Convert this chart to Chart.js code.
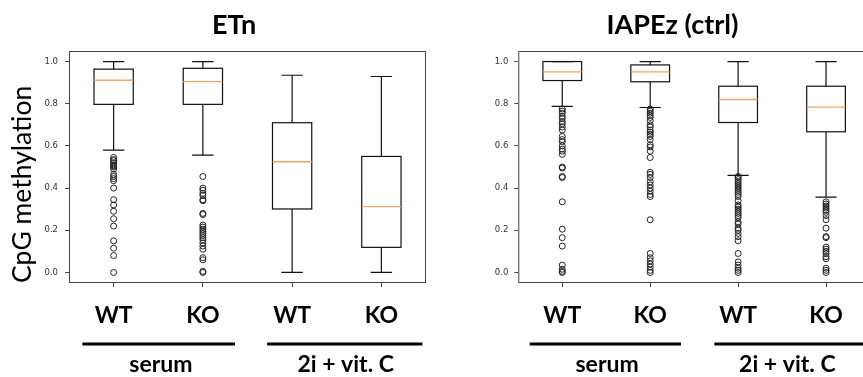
<!DOCTYPE html>
<html>
<head>
<meta charset="utf-8">
<script src="https://cdn.jsdelivr.net/npm/chart.js@4.4.1/dist/chart.umd.min.js"></script>
<style>
  html, body { margin: 0; padding: 0; background: #fff; overflow: hidden; }
  body { width: 863px; height: 377px; position: relative; }
  canvas { position: absolute; top: 0; }
  #etnChart { left: 0; }
  #iapChart { left: 470px; }
</style>
</head>
<body>
<canvas id="etnChart" width="468" height="377"></canvas>
<canvas id="iapChart" width="405" height="377"></canvas>
<script>
const categories = ['WT', 'KO', 'WT', 'KO'];
const groups = ['serum', '2i + vit. C'];
const yTicks = [0, 0.2, 0.4, 0.6, 0.8, 1.0];

// ETn box stats (WT serum, KO serum, WT 2i, KO 2i)
const etnLow = [0.580, 0.556, 0.0, 0.0];
const etnQ1 = [0.797, 0.797, 0.301, 0.119];
const etnMed = [0.911, 0.905, 0.525, 0.312];
const etnQ3 = [0.964, 0.968, 0.710, 0.550];
const etnHigh = [1.0, 1.0, 0.935, 0.929];
const etnWtSerumOut = [0.545, 0.535, 0.53, 0.52, 0.51, 0.505, 0.50, 0.49, 0.465, 0.455, 0.445, 0.435, 0.40, 0.345, 0.32, 0.29, 0.255, 0.22, 0.15, 0.115, 0.08, 0.0];
const etnKoSerumOut = [0.455, 0.40, 0.39, 0.375, 0.365, 0.345, 0.34, 0.28, 0.275, 0.225, 0.215, 0.205, 0.195, 0.185, 0.175, 0.165, 0.155, 0.14, 0.125, 0.11, 0.07, 0.06, 0.005, 0.0];
const etnWt2iOut = [];
const etnKo2iOut = [];

// IAPEz (ctrl) box stats
const iapLow = [0.787, 0.782, 0.460, 0.357];
const iapQ1 = [0.910, 0.904, 0.711, 0.667];
const iapMed = [0.951, 0.951, 0.820, 0.784];
const iapQ3 = [1.0, 0.984, 0.883, 0.883];
const iapHigh = [1.0, 1.0, 1.0, 1.0];
const iapWtSerumOut = [0.775, 0.765, 0.755, 0.74, 0.73, 0.715, 0.705, 0.69, 0.675, 0.645, 0.63, 0.62, 0.60, 0.585, 0.575, 0.56, 0.50, 0.495, 0.455, 0.45, 0.335, 0.205, 0.165, 0.125, 0.035, 0.015, 0.005, 0.0];
const iapKoSerumOut = [0.775, 0.765, 0.755, 0.745, 0.735, 0.72, 0.70, 0.69, 0.675, 0.665, 0.655, 0.645, 0.63, 0.605, 0.595, 0.575, 0.545, 0.475, 0.465, 0.45, 0.43, 0.415, 0.40, 0.385, 0.37, 0.36, 0.25, 0.09, 0.07, 0.055, 0.04, 0.025, 0.01, 0.0];
const iapWt2iOut = [0.455, 0.45, 0.44, 0.43, 0.42, 0.41, 0.40, 0.39, 0.38, 0.37, 0.36, 0.34, 0.32, 0.31, 0.30, 0.29, 0.28, 0.27, 0.26, 0.24, 0.23, 0.21, 0.20, 0.185, 0.17, 0.15, 0.09, 0.05, 0.035, 0.02, 0.01, 0.0];
const iapKo2iOut = [0.335, 0.325, 0.315, 0.305, 0.295, 0.285, 0.27, 0.25, 0.21, 0.17, 0.165, 0.12, 0.11, 0.10, 0.09, 0.075, 0.065, 0.02, 0.01, 0.0];

const BOX_W = 0.44;   // in x units
const CAP_W = 0.24;
const frameColor = '#444';
const medianColor = '#f7a25e';
const boldFont = 'Lato';

// draws boxes, whiskers, medians and the frame using the chart scales
function boxPlugin(stats) {
  return {
    id: 'boxes',
    beforeDatasetsDraw(chart) {
      const { ctx, chartArea: a, scales: { x, y } } = chart;
      ctx.save();
      ctx.strokeStyle = frameColor;
      ctx.lineWidth = 1;
      ctx.strokeRect(a.left + 0.5, a.top + 0.5, a.right - a.left - 1, a.bottom - a.top - 1);

      stats.med.forEach((m, i) => {
        const c = i + 1;
        const bl = x.getPixelForValue(c - BOX_W / 2), br = x.getPixelForValue(c + BOX_W / 2);
        const cl = x.getPixelForValue(c - CAP_W / 2), cr = x.getPixelForValue(c + CAP_W / 2);
        const cx = x.getPixelForValue(c);
        const yLow = y.getPixelForValue(stats.low[i]), yHigh = y.getPixelForValue(stats.high[i]);
        const yQ1 = y.getPixelForValue(stats.q1[i]), yQ3 = y.getPixelForValue(stats.q3[i]);
        const yMed = y.getPixelForValue(m);

        ctx.strokeStyle = '#111';
        ctx.lineWidth = 1.2;
        ctx.beginPath();
        ctx.moveTo(cx, yQ1); ctx.lineTo(cx, yLow);
        ctx.moveTo(cx, yQ3); ctx.lineTo(cx, yHigh);
        ctx.moveTo(cl, yLow); ctx.lineTo(cr, yLow);
        ctx.moveTo(cl, yHigh); ctx.lineTo(cr, yHigh);
        ctx.stroke();
        ctx.strokeRect(bl, yQ3, br - bl, yQ1 - yQ3);

        ctx.strokeStyle = medianColor;
        ctx.lineWidth = 1.4;
        ctx.beginPath();
        ctx.moveTo(bl, yMed); ctx.lineTo(br, yMed);
        ctx.stroke();
      });
      ctx.restore();
    }
  };
}

// group brackets under the category labels
function groupPlugin(spans, centers) {
  return {
    id: 'groups',
    afterDraw(chart) {
      const { ctx, scales: { x } } = chart;
      ctx.save();
      ctx.strokeStyle = '#000';
      ctx.lineWidth = 3;
      ctx.fillStyle = '#000';
      ctx.font = `bold 23px ${boldFont}`;
      ctx.textAlign = 'center';
      ctx.textBaseline = 'alphabetic';
      groups.forEach((g, i) => {
        ctx.beginPath();
        ctx.moveTo(x.getPixelForValue(spans[i][0]), 344);
        ctx.lineTo(x.getPixelForValue(spans[i][1]), 344);
        ctx.stroke();
        ctx.fillText(g, x.getPixelForValue(centers[i]), 372);
      });
      ctx.restore();
    }
  };
}

function makeChart(id, opts) {
  const points = [];
  opts.outliers.forEach((arr, i) => arr.forEach(v => points.push({ x: i + 1, y: v })));

  return new Chart(document.getElementById(id), {
    type: 'scatter',
    data: {
      datasets: [{
        data: points,
        pointRadius: 3,
        pointBorderWidth: 1,
        pointBorderColor: '#222',
        pointBackgroundColor: 'rgba(0,0,0,0)'
      }]
    },
    options: {
      responsive: false,
      animation: false,
      plugins: {
        legend: { display: false },
        tooltip: { enabled: false },
        title: {
          display: true,
          text: opts.title,
          color: '#000',
          font: { family: boldFont, size: 27, weight: 'bold' },
          padding: { top: 9, bottom: 9.6 }
        }
      },
      scales: {
        x: {
          type: 'linear',
          min: 0.5,
          max: 4.5,
          afterBuildTicks: axis => { axis.ticks = categories.map((c, i) => ({ value: i + 1 })); },
          afterFit: axis => { axis.height = 94; },
          grid: { drawOnChartArea: false, tickLength: 4, color: frameColor },
          border: { display: false },
          ticks: {
            callback: (v, i) => categories[i],
            color: '#000',
            padding: 15,
            maxRotation: 0,
            autoSkip: false,
            font: { family: boldFont, size: 23, weight: 'bold' }
          }
        },
        y: {
          min: -0.05,
          max: 1.05,
          afterBuildTicks: axis => { axis.ticks = yTicks.map(v => ({ value: v })); },
          afterFit: axis => { axis.width = opts.axisWidth; },
          grid: { drawOnChartArea: false, tickLength: 4, color: frameColor },
          border: { display: false },
          ticks: {
            callback: v => v.toFixed(1),
            color: '#333',
            padding: opts.tickPad,
            font: { family: 'DejaVu Sans', size: 8.5 }
          },
          title: {
            display: opts.yTitle !== '',
            text: opts.yTitle,
            align: 'start',
            color: '#000',
            padding: { top: 7 },
            font: { family: 'Lato', size: 26.5 }
          }
        },
        // empty strip on the right so the title centres over the whole panel
        gap: {
          position: 'right',
          display: opts.gapRight > 0,
          afterFit: axis => { axis.width = opts.gapRight; },
          grid: { display: false },
          border: { display: false },
          ticks: { display: false }
        }
      }
    },
    plugins: [boxPlugin(opts.stats), groupPlugin(opts.spans, opts.centers)]
  });
}

makeChart('etnChart', {
  title: 'ETn',
  yTitle: 'CpG methylation',
  gapRight: 42,
  axisWidth: 69,
  tickPad: 7,
  stats: { low: etnLow, q1: etnQ1, med: etnMed, q3: etnQ3, high: etnHigh },
  outliers: [etnWtSerumOut, etnKoSerumOut, etnWt2iOut, etnKo2iOut],
  spans: [[0.65, 2.36], [2.72, 4.46]],
  centers: [1.53, 3.6]
});

makeChart('iapChart', {
  title: 'IAPEz (ctrl)',
  yTitle: '',
  gapRight: 0,
  axisWidth: 48.3,
  tickPad: 6,
  stats: { low: iapLow, q1: iapQ1, med: iapMed, q3: iapQ3, high: iapHigh },
  outliers: [iapWtSerumOut, iapKoSerumOut, iapWt2iOut, iapKo2iOut],
  spans: [[0.63, 2.35], [2.73, 4.7]],
  centers: [1.51, 3.56]
});
</script>
</body>
</html>
